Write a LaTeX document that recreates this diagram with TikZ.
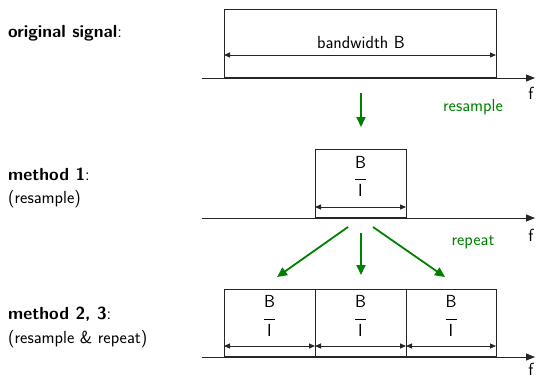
\documentclass[tikz,border=0pt]{standalone}
\usepackage{fontspec}
\usetikzlibrary{arrows.meta}
\definecolor{arrgreen}{RGB}{0,128,0}
\newcommand\BoverI{B\\[-9pt]\rule{11pt}{0.9pt}\\[-4.5pt]I}
\tikzset{
  every node/.style={font=\fontsize{17.5}{21}\selectfont\sffamily},
  band/.style={draw=black!85, line width=0.9pt, inner sep=0pt, anchor=south west},
  axis/.style={draw=black!85, line width=0.9pt, -{Triangle[length=9pt,width=7pt]}},
  span/.style={draw=black!85, line width=0.9pt, {Triangle[length=6pt,width=5pt]}-{Triangle[length=6pt,width=5pt]}},
  garrow/.style={draw=arrgreen, line width=1.8pt, -{Triangle[length=10pt,width=9pt]}, fill=arrgreen},
  glabel/.style={text=arrgreen},
  frac/.style={align=center, inner sep=0pt},
  lab/.style={anchor=west, inner sep=0pt}
}
\begin{document}
\begin{tikzpicture}[x=1pt,y=-1pt]
\useasboundingbox (0,0) rectangle (537,378);
% ---- original signal
\node[lab] (l0) at (8,33) {\textbf{original signal}:};
\node[band, minimum width=272pt, minimum height=68pt] (b0) at (224,78) {};
\coordinate (a0s) at (202,78); \coordinate (a0e) at (535,78);
\draw[axis] (a0s) -- (a0e);
\coordinate (s0l) at (224,55); \coordinate (s0r) at (496,55);
\draw[span] (s0l) -- (s0r);
\node (t0) at (361,42) {bandwidth B};
\node (f0) at (531,93) {f};
% ---- resample arrow
\coordinate (r1) at (361,93); \coordinate (r2) at (361,127);
\draw[garrow] (r1) -- (r2);
\node[glabel] (rs) at (473,107) {resample};
% ---- method 1
\node[lab] (l1) at (8,174) {\textbf{method 1}:};
\node[lab] (l1b) at (8,199) {(resample)};
\node[band, minimum width=91pt, minimum height=68pt] (b1) at (315,218) {};
\coordinate (a1s) at (202,218); \coordinate (a1e) at (535,218);
\draw[axis] (a1s) -- (a1e);
\coordinate (s1l) at (315,207); \coordinate (s1r) at (406,207);
\draw[span] (s1l) -- (s1r);
\node[frac] (q1) at (360.5,176.5) {\BoverI};
\node (f1) at (531,235) {f};
% ---- repeat arrows
\coordinate (p0) at (348,227); \coordinate (p1) at (277,277);
\coordinate (p2) at (361,233); \coordinate (p3) at (361,275);
\coordinate (p4) at (373,227); \coordinate (p5) at (445,277);
\draw[garrow] (p0) -- (p1);
\draw[garrow] (p2) -- (p3);
\draw[garrow] (p4) -- (p5);
\node[glabel] (rp) at (473,242) {repeat};
% ---- method 2,3
\node[lab] (l2) at (8,314) {\textbf{method 2, 3}:};
\node[lab] (l2b) at (8,339) {(resample \& repeat)};
\node[band, minimum width=91pt, minimum height=67pt] (b2) at (224,357) {};
\node[band, minimum width=91pt, minimum height=67pt] (b3) at (315,357) {};
\node[band, minimum width=90pt, minimum height=67pt] (b4) at (406,357) {};
\coordinate (a2s) at (202,357); \coordinate (a2e) at (535,357);
\draw[axis] (a2s) -- (a2e);
\coordinate (s2a) at (224,346); \coordinate (s2b) at (315,346);
\coordinate (s2c) at (406,346); \coordinate (s2d) at (496,346);
\draw[span] (s2a) -- (s2b);
\draw[span] (s2b) -- (s2c);
\draw[span] (s2c) -- (s2d);
\node[frac] (q2) at (269.5,316) {\BoverI};
\node[frac] (q3) at (360.5,316) {\BoverI};
\node[frac] (q4) at (451,316) {\BoverI};
\node (f2) at (531,369) {f};
\end{tikzpicture}
\end{document}
